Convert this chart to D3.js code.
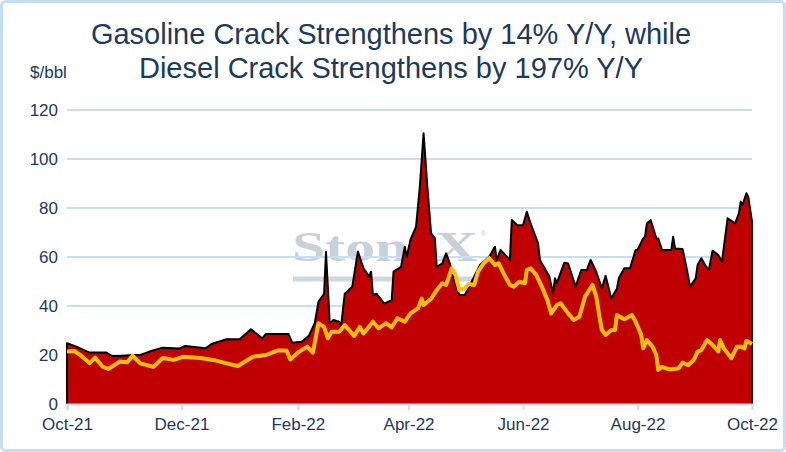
<head>
    <script src="https://d3js.org/d3.v7.min.js"></script>
    <style>
        body { margin: 0; background: #ffffff; }
        text { font-family: "Liberation Sans", Arial, sans-serif; }
    </style>
</head>

<body>
    <div id="chart"></div>
</body>

<script>
    // diesel crack ($/bbl)
    const dieselDates = ["2021-10-01","2021-10-06","2021-10-13","2021-10-22","2021-10-25","2021-10-29","2021-11-05","2021-11-09","2021-11-14","2021-11-21","2021-11-30","2021-12-03","2021-12-14","2021-12-17","2021-12-25","2022-01-01","2022-01-07","2022-01-13","2022-01-15","2022-01-21","2022-01-27","2022-01-29","2022-02-03","2022-02-07","2022-02-10","2022-02-12","2022-02-15","2022-02-16","2022-02-18","2022-02-20","2022-02-23","2022-02-24","2022-02-26","2022-03-02","2022-03-04","2022-03-05","2022-03-08","2022-03-11","2022-03-12","2022-03-13","2022-03-15","2022-03-17","2022-03-19","2022-03-23","2022-03-24","2022-03-28","2022-03-30","2022-03-31","2022-04-02","2022-04-05","2022-04-07","2022-04-09","2022-04-11","2022-04-13","2022-04-15","2022-04-16","2022-04-19","2022-04-21","2022-04-23","2022-04-25","2022-04-28","2022-05-01","2022-05-03","2022-05-09","2022-05-14","2022-05-17","2022-05-18","2022-05-20","2022-05-25","2022-05-26","2022-05-29","2022-06-01","2022-06-03","2022-06-05","2022-06-09","2022-06-10","2022-06-15","2022-06-17","2022-06-18","2022-06-19","2022-06-23","2022-06-25","2022-06-29","2022-07-02","2022-07-05","2022-07-07","2022-07-10","2022-07-13","2022-07-15","2022-07-18","2022-07-21","2022-07-22","2022-07-25","2022-07-28","2022-07-31","2022-08-01","2022-08-04","2022-08-05","2022-08-06","2022-08-08","2022-08-11","2022-08-12","2022-08-14","2022-08-19","2022-08-20","2022-08-21","2022-08-25","2022-08-27","2022-08-29","2022-09-01","2022-09-02","2022-09-04","2022-09-06","2022-09-08","2022-09-10","2022-09-13","2022-09-15","2022-09-18","2022-09-22","2022-09-24","2022-09-25","2022-09-26","2022-09-28","2022-09-29","2022-10-01"];
    const dieselValues = [24.8,23.4,21,21,19.6,19.6,20,20,21.4,23,22.7,23.7,22.8,24.5,26.4,26.4,30.5,26.8,28.6,28.6,28.6,25,25.4,28,33,41.8,45,62,33,34.3,33.6,31.5,45,47.9,57.4,62.2,55.4,52,54,44.5,45,43,41,42.4,54,56,64.2,60,67,72.4,88.7,110.5,88.7,69.7,67.6,56,57.4,61.5,57.4,51.3,44.5,44.5,47.5,56.7,60.1,64.2,58.8,62.9,58.8,75.1,73,73,78.5,73.7,65.6,58.8,52,45.2,51.3,49.3,57.7,57.4,47.9,54.7,54.7,58.8,54,47.2,52.3,43.1,47,51.3,55.4,55.4,62.9,62.9,67.6,68.3,73.7,75.1,67.6,67.6,62.9,62.9,68.3,63.5,63.3,56,47.9,51.3,56.7,59.5,56.7,54.7,62.6,60.8,58.1,75.8,73.7,77.8,82.6,81.2,86,84.6,74.4];

    // gasoline crack ($/bbl)
    const gasDates = ["2021-10-01","2021-10-05","2021-10-08","2021-10-13","2021-10-16","2021-10-20","2021-10-23","2021-10-29","2021-11-02","2021-11-05","2021-11-09","2021-11-16","2021-11-21","2021-11-27","2021-12-02","2021-12-11","2021-12-18","2021-12-25","2021-12-31","2022-01-08","2022-01-15","2022-01-21","2022-01-26","2022-01-28","2022-02-01","2022-02-06","2022-02-09","2022-02-12","2022-02-15","2022-02-17","2022-02-19","2022-02-23","2022-02-26","2022-03-03","2022-03-06","2022-03-08","2022-03-13","2022-03-16","2022-03-20","2022-03-23","2022-03-26","2022-03-30","2022-04-02","2022-04-06","2022-04-08","2022-04-09","2022-04-13","2022-04-16","2022-04-19","2022-04-21","2022-04-24","2022-04-26","2022-04-28","2022-05-01","2022-05-03","2022-05-06","2022-05-08","2022-05-11","2022-05-14","2022-05-17","2022-05-19","2022-05-22","2022-05-25","2022-05-27","2022-05-30","2022-06-02","2022-06-03","2022-06-05","2022-06-08","2022-06-11","2022-06-14","2022-06-16","2022-06-19","2022-06-21","2022-06-25","2022-06-28","2022-07-01","2022-07-04","2022-07-08","2022-07-10","2022-07-12","2022-07-13","2022-07-15","2022-07-18","2022-07-20","2022-07-21","2022-07-25","2022-07-29","2022-07-31","2022-08-03","2022-08-04","2022-08-06","2022-08-09","2022-08-11","2022-08-12","2022-08-14","2022-08-18","2022-08-23","2022-08-25","2022-08-28","2022-08-31","2022-09-02","2022-09-04","2022-09-07","2022-09-10","2022-09-13","2022-09-14","2022-09-16","2022-09-20","2022-09-23","2022-09-25","2022-09-27","2022-09-28","2022-10-01"];
    const gasValues = [21.4,21.6,20,16.7,18.9,15.2,14.3,17.3,17,19.7,16.6,15.2,18.8,18,19.3,18.8,18,16.6,15.5,19.3,20,21.8,21.8,18.2,21,23.4,21,33,31.5,26.8,29.5,29.5,32.2,27.8,31.5,28.8,33.6,30.9,33,31.3,35,33.6,37,39,43,40.4,43,46.5,49.3,48.6,55.4,52.6,46.5,47.2,49,48.6,54,57.4,59.5,56.7,57.4,52.7,48.6,47.9,49.9,49.3,54.7,55.4,52.7,47.9,42.4,37,40.4,41.1,37,34.3,35.6,43.8,48.6,43.8,34.3,30.2,28.2,30.2,30.2,36.3,34.6,36.3,33.6,28.2,22.7,26.1,23.4,20,13.9,15.2,14.1,14.6,16.9,15.9,18,21.4,22,26.1,24.1,21.4,26.1,22.7,18.7,23.4,23.4,22.7,25.8,24.5];

    const yTicks = [0, 20, 40, 60, 80, 100, 120];
    const xTicks = ["2021-10-01","2021-12-01","2022-02-01","2022-04-01","2022-06-01","2022-08-01","2022-10-01"];
    const titleLines = ["Gasoline Crack Strengthens by 14% Y/Y, while", "Diesel Crack Strengthens by 197% Y/Y"];

    const width = 786, height = 452;
    const margin = { top: 110, right: 34, bottom: 48, left: 67 };
    const navy = "#1a3a5e";
    const gridBlue = "#c6dff4";

    const parse = d3.timeParse("%Y-%m-%d");
    const diesel = dieselDates.map((d, i) => ({ date: parse(d), value: dieselValues[i] }));
    const gas = gasDates.map((d, i) => ({ date: parse(d), value: gasValues[i] }));

    const svg = d3.select("#chart")
        .append("svg")
        .attr("width", width)
        .attr("height", height);

    // light blue frame
    svg.append("rect")
        .attr("x", 1.5).attr("y", 1.5)
        .attr("width", width - 3).attr("height", height - 3)
        .attr("rx", 4)
        .attr("fill", "#ffffff")
        .attr("stroke", "#c6ddf2")
        .attr("stroke-width", 3);

    const x = d3.scaleTime()
        .domain([parse(xTicks[0]), parse(xTicks[xTicks.length - 1])])
        .range([margin.left, width - margin.right]);

    const y = d3.scaleLinear()
        .domain([0, 120])
        .range([height - margin.bottom, margin.top]);

    // watermark, sits behind gridlines and series
    const wm = svg.append("g");
    wm.append("text")
        .attr("x", 292).attr("y", 261)
        .style("font-family", "'Liberation Serif', 'DejaVu Serif', serif")
        .style("font-weight", "bold")
        .attr("font-size", 42)
        .attr("textLength", 186)
        .attr("lengthAdjust", "spacingAndGlyphs")
        .attr("fill", "#c8d1da")
        .text("StoneX");
    wm.append("text")
        .attr("x", 481).attr("y", 236)
        .attr("font-size", 7)
        .attr("fill", "#c8d1da")
        .text("®");
    wm.append("line")
        .attr("x1", 293).attr("x2", 478)
        .attr("y1", 279).attr("y2", 279)
        .attr("stroke", "#d0d8df")
        .attr("stroke-width", 5);

    // gridlines
    svg.append("g")
        .selectAll("line")
        .data(yTicks.filter(d => d > 0))
        .enter()
        .append("line")
        .attr("x1", margin.left)
        .attr("x2", width - margin.right)
        .attr("y1", d => y(d))
        .attr("y2", d => y(d))
        .attr("stroke", gridBlue)
        .attr("stroke-width", 2);

    // diesel area
    const area = d3.area()
        .x(d => x(d.date))
        .y0(y(0))
        .y1(d => y(d.value));

    svg.append("path")
        .datum(diesel)
        .attr("d", area)
        .attr("fill", "#c00000");

    // black outline: up the left edge, along the top, down the right edge
    const first = diesel[0], last = diesel[diesel.length - 1];
    const outline = [{ date: first.date, value: 0 }].concat(diesel, [{ date: last.date, value: 0 }]);
    svg.append("path")
        .datum(outline)
        .attr("d", d3.line().x(d => x(d.date)).y(d => y(d.value)))
        .attr("fill", "none")
        .attr("stroke", "#000000")
        .attr("stroke-width", 2)
        .attr("stroke-linejoin", "round");

    // gasoline line
    svg.append("path")
        .datum(gas)
        .attr("d", d3.line().x(d => x(d.date)).y(d => y(d.value)))
        .attr("fill", "none")
        .attr("stroke", "#ffc000")
        .attr("stroke-width", 4)
        .attr("stroke-linejoin", "round");

    // x axis
    const xAxis = svg.append("g")
        .attr("transform", `translate(0,${y(0)})`)
        .call(d3.axisBottom(x)
            .tickValues(xTicks.map(parse))
            .tickFormat(d3.timeFormat("%b-%y"))
            .tickSize(6)
            .tickPadding(8));
    xAxis.select(".domain").attr("stroke", gridBlue).attr("stroke-width", 2);
    xAxis.selectAll(".tick line").attr("stroke", gridBlue).attr("stroke-width", 2);
    xAxis.selectAll(".tick text")
        .attr("fill", navy)
        .attr("font-size", 17)
        .attr("font-family", "'Liberation Sans', Arial, sans-serif");

    // y axis labels only
    const yAxis = svg.append("g")
        .attr("transform", `translate(${margin.left},0)`)
        .call(d3.axisLeft(y)
            .tickValues(yTicks)
            .tickSize(0)
            .tickPadding(9));
    yAxis.select(".domain").remove();
    yAxis.selectAll(".tick text")
        .attr("fill", navy)
        .attr("font-size", 17)
        .attr("font-family", "'Liberation Sans', Arial, sans-serif");

    svg.append("text")
        .attr("x", 30).attr("y", 78)
        .attr("fill", navy)
        .attr("font-size", 17)
        .text("$/bbl");

    svg.append("g")
        .selectAll("text")
        .data(titleLines)
        .enter()
        .append("text")
        .attr("x", 391)
        .attr("y", (d, i) => 43.5 + i * 34.5)
        .attr("text-anchor", "middle")
        .attr("fill", navy)
        .attr("font-size", 29)
        .text(d => d);
</script>
